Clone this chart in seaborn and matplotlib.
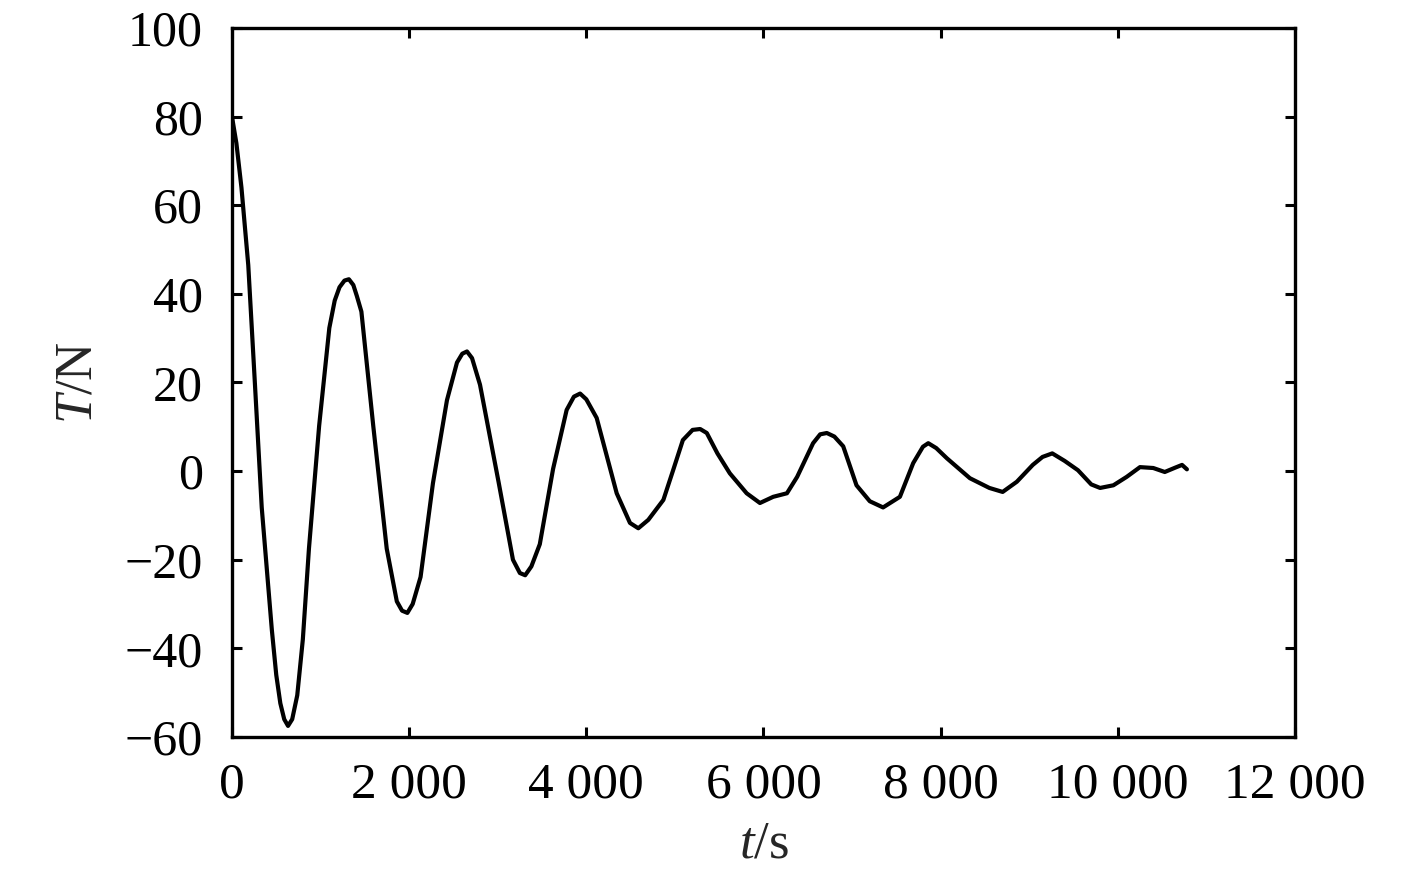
import seaborn as sns
import matplotlib.pyplot as plt
import pandas as pd

# values
t_s = [0, 50, 107, 184, 260, 336, 450, 500, 546, 590, 633, 680, 737, 800,
       869, 984, 1099, 1160, 1214, 1270, 1320, 1370, 1410, 1461, 1595, 1747,
       1861, 1920, 1980, 2040, 2129, 2269, 2427, 2540, 2600, 2653, 2710, 2800,
       3010, 3172, 3250, 3310, 3380, 3475, 3625, 3778, 3860, 3930, 4000, 4117,
       4343, 4493, 4587, 4700, 4870, 4980, 5090, 5200, 5285, 5360, 5480, 5620,
       5810, 5960, 6110, 6265, 6380, 6560, 6640, 6715, 6800, 6900, 7050, 7200,
       7350, 7540, 7690, 7800, 7860, 7950, 8070, 8330, 8550, 8700, 8860, 9040,
       9150, 9260, 9400, 9550, 9700, 9800, 9950, 10100, 10250, 10400, 10530,
       10650, 10725, 10780]
tension_n = [80, 74, 64, 46.5, 19.4, -8.2, -35.8, -46, -52.4, -56, -57.5, -56, -50.6, -38,
             -17.5, 10.2, 32.3, 38.5, 41.5, 43, 43.3, 42, 39.5, 36, 10.2, -17.5,
             -29.4, -31.5, -32, -30, -23.9, -2.7, 16, 24.5, 26.5, 27, 25.5, 19.5,
             -2.5, -20, -23, -23.5, -21.5, -16.5, 0.5, 13.8, 16.8, 17.5, 16.2, 12,
             -5, -11.7, -12.9, -11, -6.5, 0.2, 7, 9.3, 9.5, 8.6, 4, -0.5,
             -5, -7.2, -5.8, -5, -1.3, 6.3, 8.3, 8.6, 7.8, 5.6, -3.2, -6.8,
             -8.2, -5.8, 1.8, 5.5, 6.3, 5.2, 2.9, -1.6, -3.8, -4.7, -2.4, 1.4,
             3.2, 4.0, 2.3, 0.2, -3, -3.8, -3.2, -1.3, 0.9, 0.7, -0.2,
             0.8, 1.4, 0.4]

x_ticks = [0, 2000, 4000, 6000, 8000, 10000, 12000]
x_labels = ["0", "2 000", "4 000", "6 000", "8 000", "10 000", "12 000"]
y_ticks = [-60, -40, -20, 0, 20, 40, 60, 80, 100]
y_labels = ["\u221260", "\u221240", "\u221220", "0", "20", "40", "60", "80", "100"]

df = pd.DataFrame({"t": t_s, "T": tension_n})

sns.set_style("ticks")
plt.rcParams["font.family"] = ["Liberation Serif", "DejaVu Serif"]
plt.rcParams["mathtext.fontset"] = "custom"
plt.rcParams["mathtext.rm"] = "Liberation Serif"
plt.rcParams["mathtext.it"] = "Liberation Serif:italic"

fig = plt.figure(figsize=(14.17, 8.86), dpi=100)
ax = fig.add_axes([0.1637, 0.1682, 0.7502, 0.8002])

sns.lineplot(data=df, x="t", y="T", ax=ax, color="black", linewidth=3.0)
for ln in ax.lines:
    ln.set_solid_joinstyle("round")
    ln.set_solid_capstyle("round")

ax.set_xlim(0, 12000)
ax.set_ylim(-60, 100)
ax.set_xticks(x_ticks)
ax.set_xticklabels(x_labels, fontsize=37)
ax.set_yticks(y_ticks)
ax.set_yticklabels(y_labels, fontsize=36)
ax.tick_params(direction="in", length=7, width=2.2, top=True, right=True,
               colors="black")
ax.tick_params(axis="x", pad=18)
ax.tick_params(axis="y", pad=21)
for sp in ax.spines.values():
    sp.set_linewidth(2.4)
    sp.set_color("black")

ax.set_xlabel("$\\mathit{t}$/s", fontsize=38)
ax.set_ylabel("$\\mathit{T}$/N", fontsize=38)
ax.xaxis.set_label_coords(0.5, -0.118)
ax.yaxis.set_label_coords(-0.122, 0.5)

fig.savefig("out.png", dpi=100)
plt.close()
